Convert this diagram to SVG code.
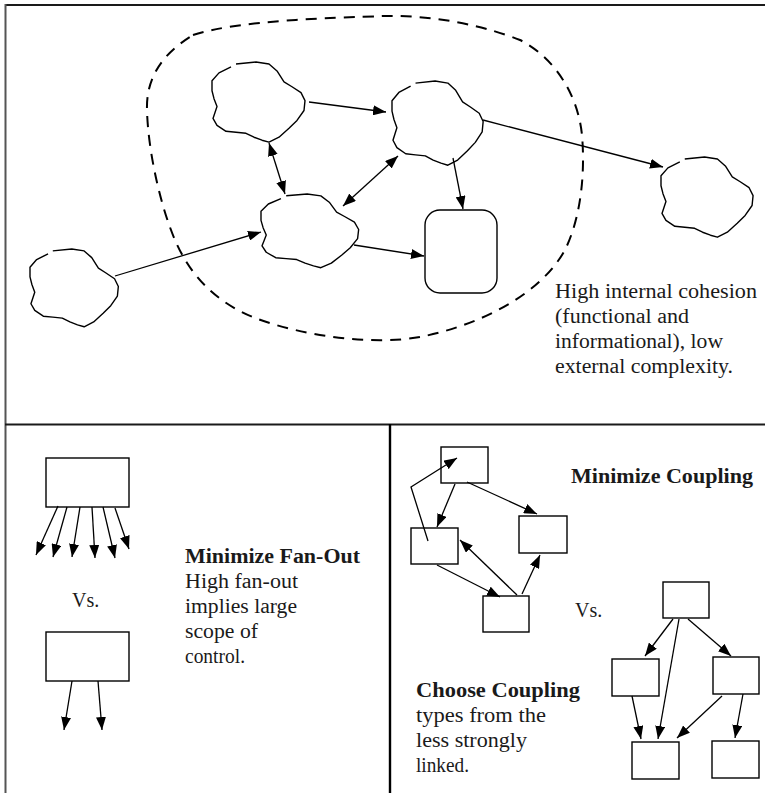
<svg xmlns="http://www.w3.org/2000/svg" xmlns:xlink="http://www.w3.org/1999/xlink" width="765" height="793" viewBox="0 0 765 793">
  <style>
    .frame { fill: none; stroke: #1a1a1a; stroke-width: 2.2; }
    .cloud { fill: none; stroke: #000; stroke-width: 1.4; stroke-linejoin: round; vector-effect: non-scaling-stroke; }
    .box { fill: #fff; stroke: #000; stroke-width: 1.4; }
    .edge { fill: none; stroke: #000; stroke-width: 1.3; }
    .arrow { marker-end: url(#head); }
    .both { marker-start: url(#head); marker-end: url(#head); }
    .scope { fill: none; stroke: #000; stroke-width: 2; stroke-dasharray: 11 8; }
    .txt { font-family: "Liberation Serif", "Times New Roman", serif; font-size: 20px; fill: #1a1a1a; }
    .bold { font-weight: bold; }
  </style>
  <defs>
    <marker id="head" markerUnits="userSpaceOnUse" markerWidth="13" markerHeight="10" refX="13" refY="5" orient="auto-start-reverse">
      <path d="M0,0 L13,5 L0,10 Z" fill="#000"/>
    </marker>
    <!-- irregular blob outline, open at the upper left -->
    <path id="blob" class="cloud" d="M24,2 L44,0 57,2 65,9 72,20 80,25 89,31 93,39 92,49 85,59 77,67 67,76 57,81 50,79 42,76 34,72 24,71 14,70 5,64 1,57 3,51 5,45 2,37 0,29 0,19 7,11 19,5"/>
  </defs>

  <rect width="765" height="793" fill="#fff"/>

  <!-- panel frame -->
  <g id="frame">
    <line class="frame" x1="5" y1="5" x2="765" y2="5"/>
    <line x1="5.5" y1="4" x2="5.5" y2="793" stroke="#555" stroke-width="2"/>
    <line class="frame" x1="5" y1="424.5" x2="765" y2="424.5"/>
    <line x1="390" y1="424" x2="390" y2="793" stroke="#000" stroke-width="2.4"/>
  </g>

  <!-- upper panel: cohesive subsystem -->
  <g id="scope">
    <path class="scope" d="M193,35 C240,20 330,18 385,16 C440,15 490,28 520,40 C555,58 578,95 582,135 C585,170 582,215 565,250 C540,295 480,325 420,337 C370,346 300,335 255,318 C215,302 190,275 175,240 C160,205 148,150 147,110 C146,80 160,55 193,35 Z"/>
  </g>

  <g id="cloud-a"><use xlink:href="#blob" transform="translate(212,62) scale(1,0.99)"/></g>
  <g id="cloud-b"><use xlink:href="#blob" transform="translate(392,81) scale(0.98,1.04)"/></g>
  <g id="cloud-c"><use xlink:href="#blob" transform="translate(261,194) scale(1.05,0.91)"/></g>
  <g id="cloud-d"><use xlink:href="#blob" transform="translate(30,249) scale(0.95,0.96)"/></g>
  <g id="cloud-e"><use xlink:href="#blob" transform="translate(661,157) scale(0.99,0.99)"/></g>
  <g id="store"><rect class="box" x="425" y="210" width="72" height="83" rx="15" ry="15"/></g>

  <g id="connectors-top">
    <line class="edge arrow" x1="309" y1="102" x2="386" y2="112"/>
    <line class="edge both" x1="269" y1="143" x2="285" y2="194"/>
    <line class="edge both" x1="398" y1="156" x2="343" y2="206"/>
    <line class="edge arrow" x1="115" y1="276" x2="261" y2="232"/>
    <line class="edge arrow" x1="354" y1="245" x2="424" y2="256"/>
    <line class="edge arrow" x1="453" y1="158" x2="463" y2="209"/>
    <line class="edge arrow" x1="483" y1="120" x2="663" y2="167"/>
  </g>

  <g id="label-cohesion" class="txt">
    <text x="555" y="298" textLength="202" lengthAdjust="spacingAndGlyphs">High internal cohesion</text>
    <text x="555" y="323" textLength="134" lengthAdjust="spacingAndGlyphs">(functional and</text>
    <text x="555" y="348" textLength="168" lengthAdjust="spacingAndGlyphs">informational), low</text>
    <text x="555" y="373" textLength="178" lengthAdjust="spacingAndGlyphs">external complexity.</text>
  </g>

  <!-- lower left: fan-out -->
  <g id="fan-wide"><rect class="box" x="46" y="458" width="83" height="49"/></g>
  <g id="fan-narrow"><rect class="box" x="46" y="632" width="83" height="49"/></g>
  <g id="connectors-fan">
    <line class="edge arrow" x1="58" y1="506" x2="36" y2="555"/>
    <line class="edge arrow" x1="67" y1="507" x2="53" y2="557"/>
    <line class="edge arrow" x1="80" y1="507" x2="72" y2="557"/>
    <line class="edge arrow" x1="92" y1="507" x2="95" y2="558"/>
    <line class="edge arrow" x1="103" y1="507" x2="115" y2="558"/>
    <line class="edge arrow" x1="115" y1="508" x2="129" y2="549"/>
    <line class="edge arrow" x1="72" y1="681" x2="64" y2="730"/>
    <line class="edge arrow" x1="98" y1="681" x2="102" y2="730"/>
  </g>
  <g id="label-fan" class="txt">
    <text x="72" y="607">Vs.</text>
    <text class="bold" x="185" y="563" textLength="175" lengthAdjust="spacingAndGlyphs">Minimize Fan-Out</text>
    <text x="185" y="588" textLength="113" lengthAdjust="spacingAndGlyphs">High fan-out</text>
    <text x="185" y="613" textLength="112" lengthAdjust="spacingAndGlyphs">implies large</text>
    <text x="185" y="638" textLength="73" lengthAdjust="spacingAndGlyphs">scope of</text>
    <text x="185" y="663" textLength="60" lengthAdjust="spacingAndGlyphs">control.</text>
  </g>

  <!-- lower right: coupling -->
  <g id="tangle-a"><rect class="box" x="441" y="447" width="47" height="36"/></g>
  <g id="tangle-b"><rect class="box" x="411" y="528" width="47" height="36"/></g>
  <g id="tangle-c"><rect class="box" x="519" y="516" width="48" height="37"/></g>
  <g id="tangle-d"><rect class="box" x="483" y="596" width="46" height="36"/></g>
  <g id="tree-root"><rect class="box" x="663" y="582" width="46" height="36"/></g>
  <g id="tree-left"><rect class="box" x="612" y="659" width="47" height="37"/></g>
  <g id="tree-right"><rect class="box" x="713" y="657" width="46" height="37"/></g>
  <g id="tree-leaf-a"><rect class="box" x="632" y="742" width="47" height="37"/></g>
  <g id="tree-leaf-b"><rect class="box" x="712" y="741" width="47" height="37"/></g>

  <g id="connectors-coupling">
    <line class="edge arrow" x1="455" y1="484" x2="437" y2="527"/>
    <line class="edge arrow" x1="467" y1="482" x2="537" y2="514"/>
    <line class="edge arrow" x1="437" y1="565" x2="500" y2="597"/>
    <line class="edge arrow" x1="517" y1="595" x2="460" y2="540"/>
    <line class="edge arrow" x1="522" y1="594" x2="540" y2="555"/>
    <polyline class="edge arrow" points="428,541 411,487 457,458"/>
    <line class="edge arrow" x1="673" y1="619" x2="645" y2="656"/>
    <line class="edge arrow" x1="679" y1="619" x2="658" y2="739"/>
    <line class="edge arrow" x1="688" y1="619" x2="731" y2="656"/>
    <line class="edge arrow" x1="632" y1="696" x2="641" y2="739"/>
    <line class="edge arrow" x1="722" y1="696" x2="677" y2="738"/>
    <line class="edge arrow" x1="743" y1="694" x2="735" y2="738"/>
  </g>
  <g id="label-coupling" class="txt">
    <text class="bold" x="571" y="483" textLength="182" lengthAdjust="spacingAndGlyphs">Minimize Coupling</text>
    <text x="575" y="617">Vs.</text>
    <text class="bold" x="416" y="697" textLength="164" lengthAdjust="spacingAndGlyphs">Choose Coupling</text>
    <text x="416" y="722" textLength="130" lengthAdjust="spacingAndGlyphs">types from the</text>
    <text x="416" y="747" textLength="111" lengthAdjust="spacingAndGlyphs">less strongly</text>
    <text x="416" y="772" textLength="53" lengthAdjust="spacingAndGlyphs">linked.</text>
  </g>
</svg>
